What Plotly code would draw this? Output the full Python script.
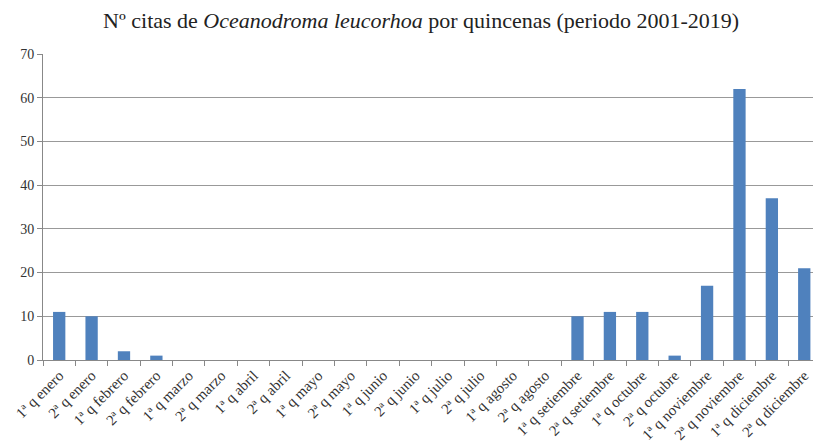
import plotly.graph_objects as go

categorias = ["1ª q enero", "2ª q enero", "1ª q febrero", "2ª q febrero",
              "1ª q marzo", "2ª q marzo", "1ª q abril", "2ª q abril",
              "1ª q mayo", "2ª q mayo", "1ª q junio", "2ª q junio",
              "1ª q julio", "2ª q julio", "1ª q agosto", "2ª q agosto",
              "1ª q setiembre", "2ª q setiembre", "1ª q octubre", "2ª q octubre",
              "1ª q noviembre", "2ª q noviembre", "1ª q diciembre", "2ª q diciembre"]
citas = [11, 10, 2, 1, 0, 0, 0, 0, 0, 0, 0, 0, 0, 0, 0, 0,
         10, 11, 11, 1, 17, 62, 37, 21]
y_ticks = [0, 10, 20, 30, 40, 50, 60, 70]

serif = "Liberation Serif, Times New Roman, serif"

fig = go.Figure(go.Bar(x=list(range(len(categorias))), y=citas,
                       marker=dict(color="#4F81BD", line=dict(width=0)),
                       width=0.38))

fig.update_layout(
    width=813, height=445,
    margin=dict(l=43, r=0, t=54, b=85, autoexpand=False),
    paper_bgcolor="white", plot_bgcolor="white",
    title=dict(text="Nº citas de <i>Oceanodroma leucorhoa</i> por quincenas (periodo 2001-2019)",
               x=0.518, xanchor="center", y=0.955, yanchor="middle",
               font=dict(family=serif, size=22, color="#222")),
    showlegend=False,
)
fig.update_xaxes(
    tickmode="array", tickvals=list(range(len(categorias))), ticktext=categorias,
    range=[-0.5, 23.27], tickangle=-45, automargin=False,
    showline=True, linecolor="#888", linewidth=1,
    ticks="", showgrid=False,
    tickfont=dict(family=serif, size=15, color="#333"),
    minor=dict(tickvals=[i - 0.5 for i in range(len(categorias) + 1)],
               ticks="outside", ticklen=5, tickcolor="#888", showgrid=False),
)
fig.update_yaxes(
    range=[0, 70], tickvals=y_ticks, automargin=False,
    showline=True, linecolor="#888", linewidth=1,
    ticks="outside", ticklen=5, tickcolor="#888",
    showgrid=True, gridcolor="#999", gridwidth=1,
    zeroline=False,
    tickfont=dict(family=serif, size=14, color="#333"),
)

fig.write_html("out.html", config={"displayModeBar": False},
               post_script="document.body.style.margin='0';document.body.style.overflow='hidden';")
